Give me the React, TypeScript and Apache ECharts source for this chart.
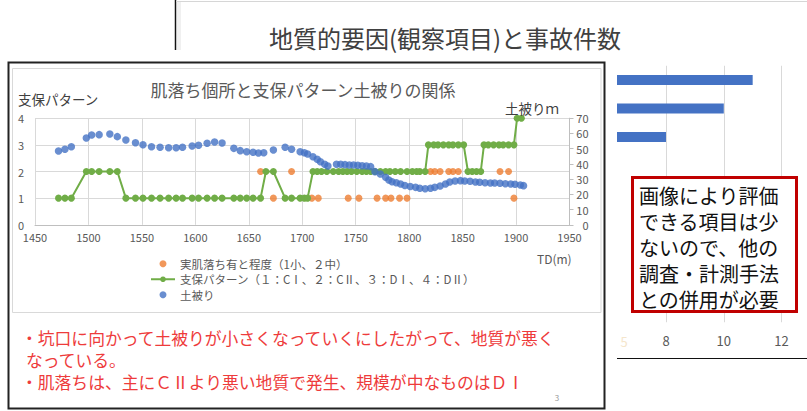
import React, { useEffect, useRef } from "react";
import * as echarts from "echarts";

// 土被り (m) — right axis
const overburdenTD = [
  1472, 1478, 1484,
  1498, 1503, 1510, 1520, 1527,
  1535, 1544, 1551, 1559, 1567,
  1575, 1582, 1588, 1597, 1603,
  1611, 1618, 1625, 1636, 1642,
  1648, 1654, 1659, 1664, 1673,
  1684, 1690, 1698, 1702, 1705,
  1710, 1714, 1717, 1721, 1724,
  1732, 1736, 1740, 1744, 1748,
  1752, 1756, 1760, 1764, 1768,
  1773, 1778, 1781, 1784, 1788,
  1792, 1796, 1801, 1806, 1810,
  1815, 1820, 1824, 1829, 1834,
  1838, 1843, 1848, 1852, 1857,
  1862, 1866, 1871, 1876, 1880,
  1885, 1890, 1895, 1899, 1904,
  1907,
];
const overburdenM = [
  48.5, 49.6, 51.3,
  57.0, 59.0, 59.2, 59.6, 57.9,
  55.7, 53.9, 52.6, 51.3, 50.9,
  50.6, 50.6, 50.9, 51.7, 52.2,
  53.5, 54.4, 53.7, 50.2, 48.7,
  48.0, 47.6, 47.2, 47.3, 49.1,
  50.9, 49.6, 48.0, 47.3, 46.5,
  44.7, 43.0, 41.4, 39.7, 38.6,
  39.7, 39.7, 39.5, 39.3, 39.3,
  39.1, 38.8, 38.6, 38.2, 34.9,
  33.4, 31.2, 29.4, 28.3, 27.6,
  26.8, 25.8, 25.2, 24.6, 24.0,
  23.7, 24.0, 24.6, 25.5, 26.8,
  28.1, 28.8, 29.0, 28.8, 28.6,
  28.1, 27.9, 27.6, 27.4, 27.4,
  27.3, 27.0, 26.8, 26.6, 26.1,
  25.7,
];

// 支保パターン — left axis
const supportTD = [
  1472, 1478, 1484,
  1498, 1503, 1510, 1520, 1527,
  1535, 1544, 1551, 1559, 1567, 1575, 1582, 1588, 1597, 1603, 1611, 1618, 1625, 1636, 1642, 1648, 1654, 1661,
  1666, 1673,
  1684, 1690, 1698, 1702, 1705,
  1710, 1714, 1718, 1723, 1729, 1734, 1738, 1742, 1746, 1751, 1756, 1760, 1764, 1768, 1773, 1778, 1782, 1787, 1792, 1798, 1803, 1807, 1810, 1815,
  1818, 1823, 1827, 1832, 1837, 1841, 1846, 1851,
  1855, 1859, 1863, 1867,
  1870, 1874, 1879, 1884, 1888, 1893, 1898,
  1901, 1905,
];
const supportPattern = [
  1, 1, 1,
  2, 2, 2, 2, 2,
  1, 1, 1, 1, 1, 1, 1, 1, 1, 1, 1, 1, 1, 1, 1, 1, 1, 1,
  2, 2,
  1, 1, 1, 1, 1,
  2, 2, 2, 2, 2, 2, 2, 2, 2, 2, 2, 2, 2, 2, 2, 2, 2, 2, 2, 2, 2, 2, 2, 2,
  3, 3, 3, 3, 3, 3, 3, 3,
  2, 2, 2, 2,
  3, 3, 3, 3, 3, 3, 3,
  4, 4,
];

// 実肌落ち有と程度 — left axis
const spallTD = [1661, 1673, 1690, 1709, 1715, 1743, 1753, 1770, 1778, 1783, 1791, 1798, 1820, 1824, 1829, 1837, 1841, 1846, 1885, 1893, 1898];
const spallLevel = [2, 1, 2, 1, 1, 1, 1, 1, 1, 1, 1, 1, 2, 2, 2, 2, 2, 2, 2, 2, 1];

// background bar chart (partly hidden)
const barCategories = ["項目1", "項目2", "項目3", "項目4", "項目5", "項目6", "項目7", "項目8", "項目9"];
const barValues = [11, 10, 8, null, null, null, null, null, null];

const seriesNames = [
  "実肌落ち有と程度（1小、２中）",
  "支保パターン（１：CⅠ、２：CⅡ、３：DⅠ、４：DⅡ）",
  "土被り",
];

const slideTitle = "地質的要因(観察項目)と事故件数";
const chartTitle = "肌落ち個所と支保パターン土被りの関係";
const noteLines = [
  "・坑口に向かって土被りが小さくなっていくにしたがって、地質が悪く",
  "なっている。",
  "・肌落ちは、主にＣⅡより悪い地質で発生、規模が中なものはＤⅠ",
];
const boxLines = ["画像により評価", "できる項目は少", "ないので、他の", "調査・計測手法", "との併用が必要"];

const FONT = "'Noto Sans CJK JP', 'Noto Sans', sans-serif";

export default function App() {
  const ref = useRef<HTMLDivElement>(null);
  useEffect(() => {
    if (!ref.current) return;
    const chart = echarts.init(ref.current, undefined, { renderer: "svg" });
    const gridLine = "#D9D9D9";
    const labelColor = "#595959";
    const option: any = {
      animation: false,
      backgroundColor: "#ffffff",
      textStyle: { fontFamily: FONT },
      grid: [
        { left: 35, right: 237.5, top: 118.2, bottom: 186.2 },
        { left: 608.2, right: 0, top: 65.75, bottom: 88.75 },
      ],
      xAxis: [
        {
          type: "value", gridIndex: 0, min: 1450, max: 1950, interval: 50,
          axisLine: { show: true, lineStyle: { color: "#BFBFBF" } },
          axisTick: { show: false },
          splitLine: { show: true, lineStyle: { color: gridLine } },
          axisLabel: { color: labelColor, fontSize: 11, margin: 7, fontFamily: FONT, formatter: (v: number) => String(v) },
        },
        {
          type: "value", gridIndex: 1, min: 6, max: 12.88, interval: 2,
          axisLine: { show: false }, axisTick: { show: false },
          splitLine: { show: true, lineStyle: { color: gridLine } },
          axisLabel: {
            color: labelColor, fontSize: 13, margin: 12, fontFamily: FONT, showMaxLabel: false,
            formatter: (v: number) => (v === 8 || v === 10 || v === 12 ? String(v) : ""),
          },
        },
      ],
      yAxis: [
        {
          type: "value", gridIndex: 0, min: 0, max: 4, interval: 1,
          axisLine: { show: false }, axisTick: { show: false },
          splitLine: { show: true, lineStyle: { color: gridLine } },
          axisLabel: { color: labelColor, fontSize: 11, margin: 11, fontFamily: FONT },
        },
        {
          type: "value", gridIndex: 0, position: "right", min: 0, max: 70, interval: 10,
          axisLine: { show: true, lineStyle: { color: "#BFBFBF" } },
          axisTick: { show: true, length: 4, lineStyle: { color: "#BFBFBF" } },
          splitLine: { show: false },
          axisLabel: { color: labelColor, fontSize: 11, margin: 19, align: "right", fontFamily: FONT },
        },
        {
          type: "category", gridIndex: 1, inverse: true, data: barCategories,
          show: false,
        },
      ],
      legend: {
        orient: "vertical", left: 145, top: 253, itemWidth: 24, itemHeight: 7, itemGap: 4,
        data: seriesNames,
        textStyle: { fontSize: 11.5, color: labelColor, fontFamily: FONT },
      },
      series: [
        {
          name: "bars", type: "bar", xAxisIndex: 1, yAxisIndex: 2,
          data: barValues, barWidth: 10, itemStyle: { color: "#4472C4" },
        },
        {
          name: seriesNames[0], type: "scatter", xAxisIndex: 0, yAxisIndex: 0,
          symbol: "circle", symbolSize: 7, itemStyle: { color: "#ED7D31" },
          data: spallTD.map((t, i) => [t, spallLevel[i]]), z: 3,
        },
        {
          name: seriesNames[1], type: "line", xAxisIndex: 0, yAxisIndex: 0,
          symbol: "circle", symbolSize: 7, showSymbol: true,
          itemStyle: { color: "#70AD47" }, lineStyle: { color: "#70AD47", width: 2 },
          data: supportTD.map((t, i) => [t, supportPattern[i]]), z: 4,
        },
        {
          name: seriesNames[2], type: "scatter", xAxisIndex: 0, yAxisIndex: 1,
          symbol: "circle", symbolSize: 7.5, itemStyle: { color: "#4472C4" },
          data: overburdenTD.map((t, i) => [t, overburdenM[i]]), z: 5,
        },
      ],
      graphic: [
        // background slide
        { type: "line", z: 100, shape: { x1: 175.5, y1: 0, x2: 175.5, y2: 50 }, style: { stroke: "#111", lineWidth: 1.5 } },
        { type: "line", z: 100, shape: { x1: 176, y1: 1.5, x2: 807, y2: 1.5 }, style: { stroke: "#D6D6D6", lineWidth: 1 } },
        { type: "rect", z: 100, shape: { x: 177, y: 2, width: 4, height: 48 }, style: { fill: "#F0F0F0" } },
        {
          type: "text", z: 100, x: 445, y: 37,
          style: { text: slideTitle, fontSize: 24, fill: "#404040", fontFamily: FONT, align: "center", verticalAlign: "middle" },
        },
        // cover left of background bars
        { type: "rect", z: 100, shape: { x: 604, y: 55, width: 13, height: 356 }, style: { fill: "#ffffff" } },
        { type: "line", z: 100, shape: { x1: 617, y1: 358.5, x2: 807, y2: 358.5 }, style: { stroke: "#111", lineWidth: 1 } },
        {
          type: "text", z: 100, x: 624, y: 341,
          style: { text: "5", fontSize: 13, fill: "#F5E6CC", fontFamily: FONT, align: "center", verticalAlign: "middle" },
        },
        // red box
        { type: "rect", z: 100, shape: { x: 632.5, y: 177.5, width: 164, height: 134 }, style: { fill: "#ffffff", stroke: "#C00000", lineWidth: 3 } },
        ...boxLines.map((t, i) => ({
          type: "text", z: 101, x: 639, y: 195 + i * 26.2,
          style: { text: t, fontSize: 20, lineHeight: 24, fill: "#111", fontFamily: FONT, verticalAlign: "middle" },
        })),
        // front panel
        { type: "rect", z: 102, shape: { x: 8.5, y: 62.5, width: 596, height: 346 }, style: { fill: "none", stroke: "#222", lineWidth: 2 } },
        { type: "rect", z: 102, shape: { x: 12.5, y: 68.5, width: 588.5, height: 244 }, style: { fill: "none", stroke: "#D9D9D9", lineWidth: 1 } },
        {
          type: "text", z: 102, x: 303, y: 89,
          style: { text: chartTitle, fontSize: 17, fill: "#595959", fontFamily: FONT, align: "center", verticalAlign: "middle" },
        },
        {
          type: "text", z: 102, x: 18, y: 99,
          style: { text: "支保パターン", fontSize: 13.5, fill: "#404040", fontFamily: FONT, verticalAlign: "middle" },
        },
        {
          type: "text", z: 102, x: 505, y: 108,
          style: { text: "土被りｍ", fontSize: 13.5, fill: "#404040", fontFamily: FONT, verticalAlign: "middle" },
        },
        {
          type: "text", z: 102, x: 537, y: 258,
          style: { text: "TD(m)", fontSize: 12, fill: "#595959", fontFamily: FONT, verticalAlign: "middle" },
        },
        ...noteLines.map((t, i) => ({
          type: "text", z: 102, x: i === 1 ? 26 : 21, y: [338, 360, 382][i],
          style: { text: t, fontSize: 16.8, lineHeight: 20, fill: "#EE3B3B", fontFamily: FONT, verticalAlign: "middle" },
        })),
        {
          type: "text", z: 102, x: 557, y: 397,
          style: { text: "3", fontSize: 8, fill: "#999", fontFamily: FONT, align: "center", verticalAlign: "middle" },
        },
      ],
    };
    chart.setOption(option);
    return () => chart.dispose();
  }, []);
  return (
    <div
      ref={ref}
      style={{ position: "fixed", left: 0, top: 0, width: 807, height: 411, background: "#fff" }}
    />
  );
}
